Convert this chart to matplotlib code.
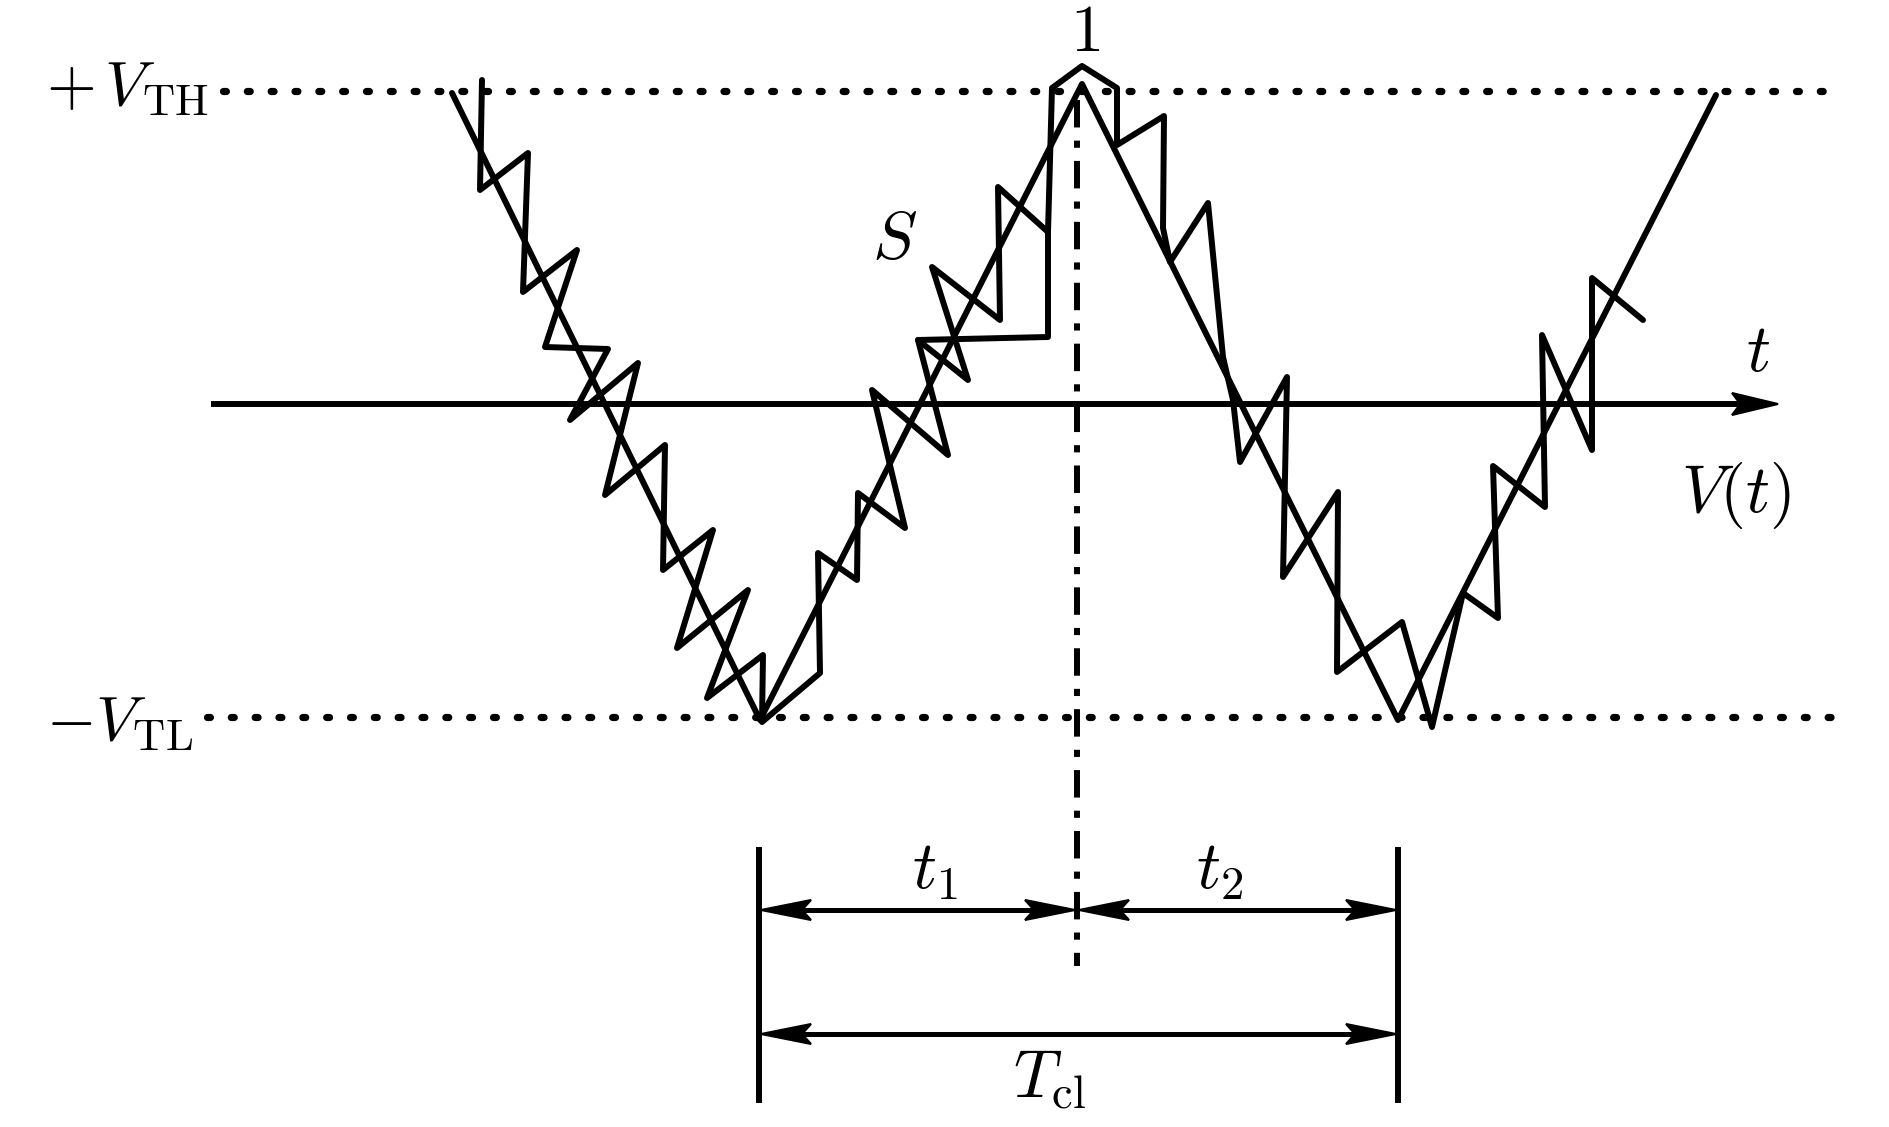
import matplotlib
matplotlib.use('Agg')
import matplotlib.pyplot as plt
from matplotlib.patches import Polygon
import numpy as np

plt.rcParams['mathtext.fontset'] = 'cm'
plt.rcParams['font.family'] = ['DejaVu Sans']

W, H = 1890, 1127

# ---- data (image-pixel coordinates of the schematic) ----
level_labels = [r'$+\,V_{\mathrm{TH}}$', r'$-V_{\mathrm{TL}}$']
level_y = [91, 717]
level_x0 = [223, 207]
level_x1 = [1838, 1838]
level_label_dy = [14, 23]

axis_y = 404
axis_x0, axis_x1 = 211, 1778

# ideal triangular V(t)
main_x = [452, 760, 1082, 1398, 1716]
main_y = [93, 720, 84, 720, 95]

# stepped trajectory S
s_x = [482, 480, 528, 523, 577, 545, 608, 570, 638, 605, 665, 663, 713, 677,
       748, 707, 763, 762, 820, 818, 857, 858, 905, 872, 948, 918, 968, 932,
       1000, 998, 1048, 1052, 1082, 1117, 1117, 1164, 1163, 1170, 1208, 1223,
       1233, 1240, 1287, 1283, 1338, 1337, 1402, 1432, 1463, 1498, 1493, 1545,
       1542, 1592, 1592, 1643]
s_y = [80, 190, 153, 292, 250, 347, 349, 420, 363, 495, 445, 570, 530, 648,
       590, 698, 655, 722, 673, 553, 580, 493, 528, 390, 455, 340, 380, 267,
       320, 187, 232, 88, 66, 88, 145, 116, 228, 262, 203, 357,
       400, 462, 377, 577, 492, 672, 622, 727, 593, 618, 466, 507,
       335, 450, 278, 320]

# alternative branch of trajectory 1
stair_x = [918, 1048, 1048]
stair_y = [340, 337, 232]

# centre mark and time intervals
mark_x = 1077
mark_y0, mark_y1 = 100, 966
dim_x = [759, 1077, 1398]
dim_y0, dim_y1 = 850, 1100
row_t = 910
row_T = 1034

text_labels = [r'$1$', r'$S$', r'$t$', r'$V(t)$', r'$t_1$', r'$t_2$', r'$T_{\mathrm{cl}}$']
text_x = [1085, 895, 1758, 1736, 935, 1220, 1050]
text_y = [51, 259, 371, 512, 889, 889, 1097]

# ---- figure ----
fig = plt.figure(figsize=(W / 100, H / 100), dpi=100)
ax = fig.add_axes([0, 0, 1, 1])
ax.set_xlim(0, W)
ax.set_ylim(H, 0)
ax.axis('off')

LW = 4.3
# threshold dotted lines
for x0, x1, y in zip(level_x0, level_x1, level_y):
    ax.plot([x0, x1], [y, y], color='black', lw=5.2,
            linestyle=(0, (0.4, 2.9)), dash_capstyle='round')

# time axis
ax.plot([axis_x0, axis_x1 - 30], [axis_y, axis_y], color='black', lw=LW,
        solid_capstyle='butt')


def arrowhead(tip_x, tip_y, direction, length=44, half=10):
    d = np.array(direction, float)
    d /= np.linalg.norm(d)
    n = np.array([-d[1], d[0]])
    tip = np.array([tip_x, tip_y], float)
    base = tip - d * length
    neck = tip - d * length * 0.82
    pts = [tip, base + n * half, neck, base - n * half]
    ax.add_patch(Polygon(pts, closed=True, facecolor='black',
                         edgecolor='black', lw=1.5))


arrowhead(axis_x1, axis_y, (1, 0), length=46, half=11)

# ideal waveform
ax.plot(main_x, main_y, color='black', lw=LW, solid_joinstyle='round',
        solid_capstyle='round')
# stepped trajectory
ax.plot(s_x, s_y, color='black', lw=LW, solid_joinstyle='round',
        solid_capstyle='round')
ax.plot(stair_x, stair_y, color='black', lw=LW, solid_joinstyle='round',
        solid_capstyle='round')

# dash-dot centre line
ax.plot([mark_x, mark_x], [mark_y0, mark_y1], color='black', lw=4.3,
        linestyle=(0, (4.6, 2.2, 1.2, 2.2)))

# dimension verticals
for x in (dim_x[0], dim_x[2]):
    ax.plot([x, x], [dim_y0, dim_y1], color='black', lw=4.3)

# t1 and t2
for xa, xb in ((dim_x[0], dim_x[1]), (dim_x[1], dim_x[2])):
    ax.plot([xa + 20, xb - 20], [row_t, row_t], color='black', lw=3.6)
    arrowhead(xa + 2, row_t, (-1, 0), length=50, half=10)
    arrowhead(xb - 2, row_t, (1, 0), length=50, half=10)
# T_cl
ax.plot([dim_x[0] + 20, dim_x[2] - 20], [row_T, row_T], color='black', lw=3.6)
arrowhead(dim_x[0] + 2, row_T, (-1, 0), length=50, half=10)
arrowhead(dim_x[2] - 2, row_T, (1, 0), length=50, half=10)

# level labels
for lab, y, dy in zip(level_labels, level_y, level_label_dy):
    ax.text(46, y + dy, lab, fontsize=46, ha='left', va='baseline',
            color='black')

for lab, x, y in zip(text_labels, text_x, text_y):
    ax.text(x, y, lab, fontsize=48, ha='center', va='baseline', color='black')

fig.savefig('out.png', dpi=100, facecolor='white')
